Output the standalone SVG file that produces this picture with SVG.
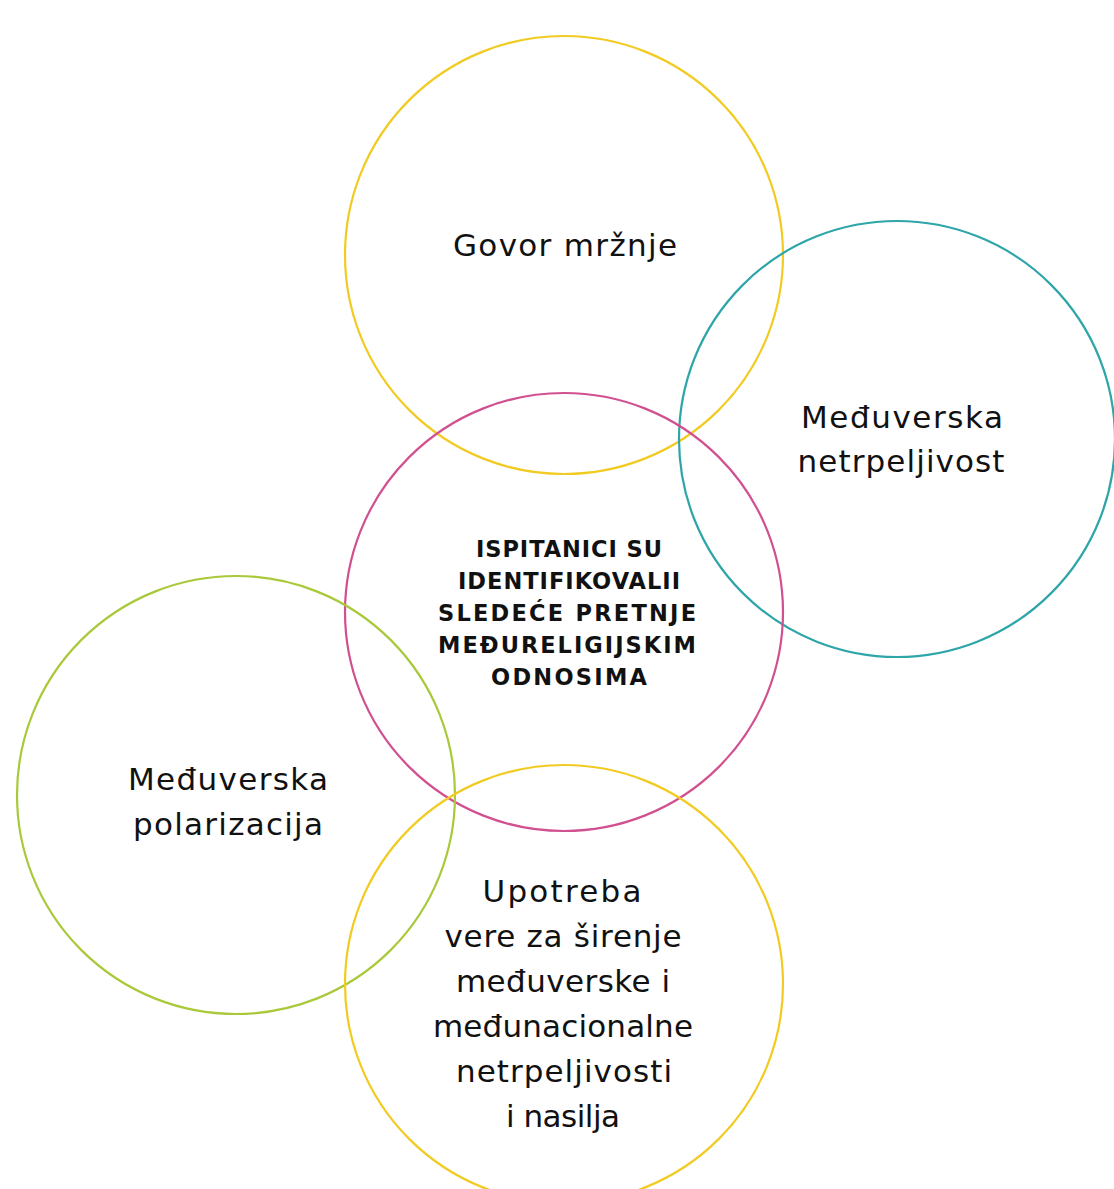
<svg xmlns="http://www.w3.org/2000/svg" width="1114" height="1189" viewBox="0 0 1114 1189">
<style>
.c{fill:none;stroke-width:2.2}
.t{font-family:"DejaVu Sans","Liberation Sans",sans-serif;font-size:31px;fill:#111;text-anchor:middle}
.b{font-family:"DejaVu Sans","Liberation Sans",sans-serif;font-size:22.5px;font-weight:bold;fill:#111;text-anchor:middle}
</style>
<rect width="1114" height="1189" fill="#fff"/>
<g id="node-govor">
<circle class="c" cx="564" cy="255" r="219" stroke="#F2CB22"/>
<text class="t" x="565" y="256" textLength="224" lengthAdjust="spacing">Govor mržnje</text>
</g>
<g id="node-netrpeljivost">
<circle class="c" cx="897" cy="439" r="218" stroke="#2EA5A9"/>
<text class="t" x="902" y="428" textLength="202" lengthAdjust="spacing">Međuverska</text>
<text class="t" x="901" y="472" textLength="207" lengthAdjust="spacing">netrpeljivost</text>
</g>
<g id="node-center">
<circle class="c" cx="564" cy="612" r="219" stroke="#D1508F"/>
<text class="b" x="569" y="557" textLength="186" lengthAdjust="spacing">ISPITANICI SU</text>
<text class="b" x="569" y="589" textLength="222" lengthAdjust="spacing">IDENTIFIKOVALII</text>
<text class="b" x="567" y="621" textLength="258" lengthAdjust="spacing">SLEDEĆE PRETNJE</text>
<text class="b" x="567" y="653" textLength="258" lengthAdjust="spacing">MEĐURELIGIJSKIM</text>
<text class="b" x="569" y="685" textLength="156" lengthAdjust="spacing">ODNOSIMA</text>
</g>
<g id="node-polarizacija">
<circle class="c" cx="236" cy="795" r="219" stroke="#A9C93A"/>
<text class="t" x="228" y="790" textLength="200" lengthAdjust="spacing">Međuverska</text>
<text class="t" x="228" y="835" textLength="190" lengthAdjust="spacing">polarizacija</text>
</g>
<g id="node-upotreba">
<circle class="c" cx="564" cy="984" r="219" stroke="#F2CB22"/>
<text class="t" x="562" y="902" textLength="159" lengthAdjust="spacing">Upotreba</text>
<text class="t" x="563" y="947" textLength="237" lengthAdjust="spacing">vere za širenje</text>
<text class="t" x="563" y="992" textLength="214" lengthAdjust="spacing">međuverske i</text>
<text class="t" x="563" y="1037" textLength="260" lengthAdjust="spacing">međunacionalne</text>
<text class="t" x="564" y="1082" textLength="216" lengthAdjust="spacing">netrpeljivosti</text>
<text class="t" x="563" y="1127" textLength="114" lengthAdjust="spacing">i nasilja</text>
</g>
<g id="connectors"></g>
</svg>
